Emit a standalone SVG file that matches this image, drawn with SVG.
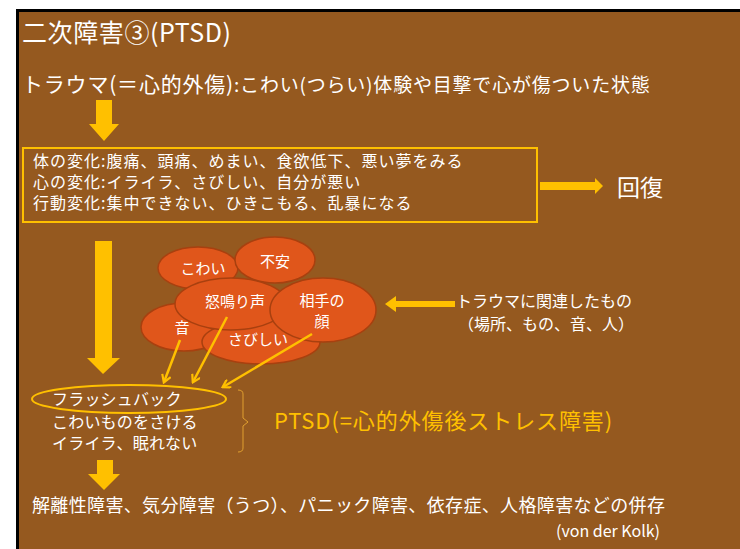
<svg xmlns="http://www.w3.org/2000/svg" width="740" height="549" viewBox="0 0 740 549">
<defs>
<style>
text{font-family:"Noto Sans CJK JP","Noto Sans",sans-serif;fill:#FFFFFF}
.bub{fill:#E0561B;stroke:#A8400F;stroke-width:1.5}
.bt{font-size:15px;text-anchor:middle}
.box{font-size:16px;letter-spacing:1px}
.sym{font-size:16px;letter-spacing:0.2px}
.thin{stroke:#FFC000;stroke-width:2.5;fill:none;marker-end:url(#vh)}
.fat{fill:#FFC000}
</style>
<marker id="vh" markerWidth="10" markerHeight="10" refX="8" refY="5" orient="auto" markerUnits="userSpaceOnUse" viewBox="0 0 10 10">
<path d="M1,0.5 L8.5,5 L1,9.5" fill="none" stroke="#FFC000" stroke-width="2.2"/>
</marker>
</defs>
<rect x="0" y="0" width="740" height="549" fill="#FFFFFF"/>
<rect x="16" y="9" width="724" height="540" fill="#000000"/>
<rect x="19" y="12" width="721" height="537" fill="#95591F"/>

<g id="title"><text x="22" y="42" font-size="25" letter-spacing="0.6">二次障害③(PTSD)</text></g>
<g id="trauma"><text x="22" y="92" font-size="21" letter-spacing="0.8">トラウマ(＝心的外傷)<tspan font-size="19">:こわい(つらい)体験や目撃で心が傷ついた状態</tspan></text></g>

<g id="changes">
<rect x="23" y="148" width="514" height="74" fill="none" stroke="#FFC000" stroke-width="2"/>
<text class="box" x="33" y="167">体の変化:腹痛、頭痛、めまい、食欲低下、悪い夢をみる</text>
<text class="box" x="33" y="188">心の変化:イライラ、さびしい、自分が悪い</text>
<text class="box" x="33" y="209">行動変化:集中できない、ひきこもる、乱暴になる</text>
</g>
<g id="recovery"><text x="617" y="196" font-size="23">回復</text></g>

<g id="bubbles">
<g id="b-kowai"><ellipse class="bub" cx="198" cy="268" rx="40" ry="21"/><text class="bt" x="203" y="274">こわい</text></g>
<g id="b-fuan"><ellipse class="bub" cx="275" cy="260" rx="40" ry="23"/><text class="bt" x="275" y="267">不安</text></g>
<g id="b-oto"><ellipse class="bub" cx="184" cy="327" rx="43" ry="24"/><text class="bt" x="182" y="333">音</text></g>
<g id="b-sabishii"><ellipse class="bub" cx="261" cy="342" rx="59" ry="22"/><text class="bt" x="258" y="345">さびしい</text></g>
<g id="b-donari"><ellipse class="bub" cx="231" cy="304" rx="56" ry="26"/><text class="bt" x="235" y="307">怒鳴り声</text></g>
<g id="b-aite"><ellipse class="bub" cx="323" cy="310" rx="53" ry="32"/><text class="bt" x="322" y="306">相手の</text><text class="bt" x="322" y="327">顔</text></g>
</g>

<g id="related"><text x="456" y="307" font-size="16">トラウマに関連したもの</text><text x="458" y="330" font-size="16">（場所、もの、音、人）</text></g>

<g id="symptoms">
<ellipse cx="129" cy="399" rx="97" ry="14" fill="none" stroke="#FFC000" stroke-width="2"/>
<text class="sym" x="52" y="405">フラッシュバック</text>
<text class="sym" x="52" y="428">こわいものをさける</text>
<text class="sym" x="52" y="449">イライラ、眠れない</text>
<path d="M238,390 Q243,390 243,394 V418 L248,422 L243,426 V448 Q243,452 238,452" fill="none" stroke="#E0A030" stroke-width="1"/>
</g>
<g id="ptsd"><text x="274" y="429" font-size="22" letter-spacing="0.9" style="fill:#FFC000">PTSD(=心的外傷後ストレス障害)</text></g>

<g id="comorbid"><text x="32" y="512" font-size="18" letter-spacing="0.35">解離性障害、気分障害（うつ）、パニック障害、依存症、人格障害などの併存</text></g>
<g id="source"><text x="660" y="537" font-size="16" text-anchor="end">(von der Kolk)</text></g>

<g id="connectors">
<path class="fat" d="M96,100 H112 V124 H119 L104,141 L89,124 H96 Z"/>
<path class="fat" d="M95,241 H112 V358 H120 L103,374 L87,358 H95 Z"/>
<path class="fat" d="M97,460 H113 V474 H120 L104,490 L88,474 H97 Z"/>
<path class="fat" d="M540,182 H595 V178 L603,186 L595,194 V190 H540 Z"/>
<path class="fat" d="M455,301 H396 V296 L385,304 L396,312 V307 H455 Z"/>
<path class="thin" d="M180,340 L164,382"/>
<path class="thin" d="M227,317 L193,382"/>
<path class="thin" d="M312,334 L223,387"/>
</g>
</svg>
